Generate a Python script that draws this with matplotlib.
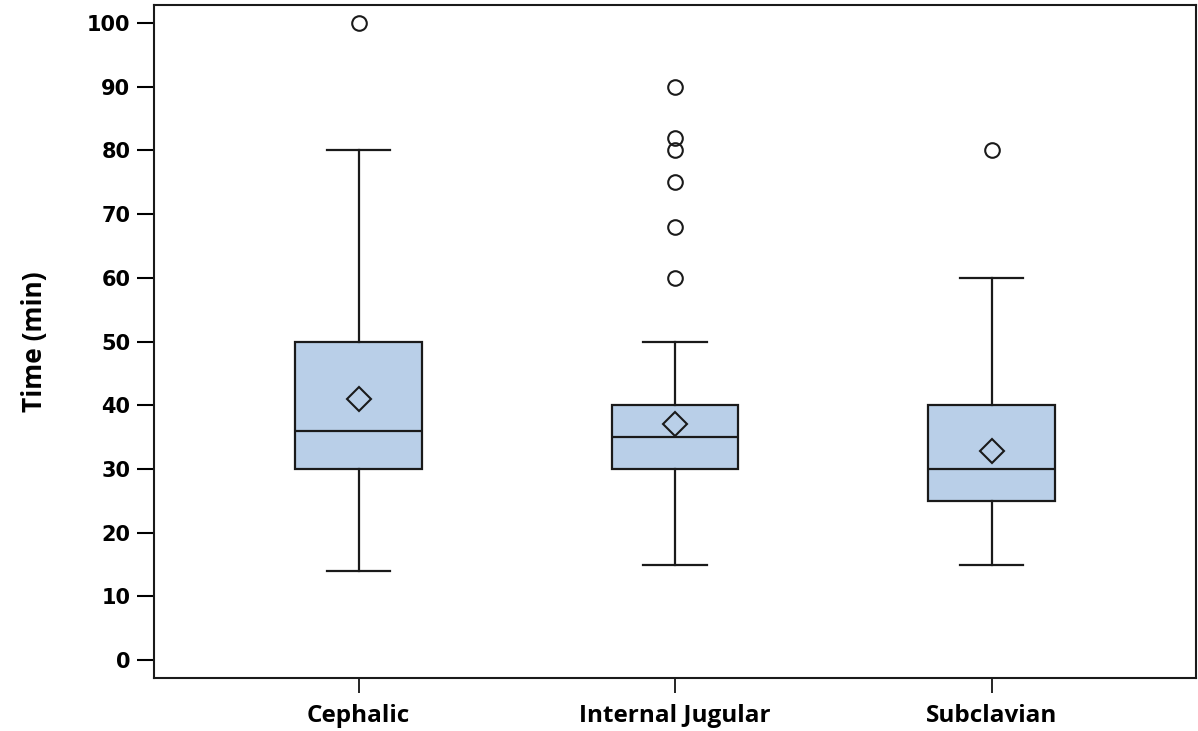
import numpy as np
import matplotlib.pyplot as plt

# box plot summary
groups = ['Cephalic', 'Internal Jugular', 'Subclavian']
whislo = [14, 15, 15]
q1 = [30, 30, 25]
med = [36, 35, 30]
q3 = [50, 40, 40]
whishi = [80, 50, 60]
means = [41, 37, 32.8]
fliers = [[100], [60, 68, 75, 80, 82, 90], [80]]
yticks = np.arange(0, 101, 10)

stats = []
for i in range(len(groups)):
    stats.append(dict(label=groups[i], whislo=whislo[i], q1=q1[i], med=med[i],
                      q3=q3[i], whishi=whishi[i], mean=means[i], fliers=fliers[i]))

fig = plt.figure(figsize=(11.98, 7.31), dpi=100)
ax = fig.add_axes([0.1285, 0.0725, 0.8695, 0.9205])

ax.bxp(stats, positions=[1, 2, 3], widths=0.4, patch_artist=True, showmeans=True,
       boxprops=dict(facecolor='#b9cfe8', edgecolor='#1a1a1a', linewidth=1.6),
       medianprops=dict(color='#1a1a1a', linewidth=1.6),
       whiskerprops=dict(color='#1a1a1a', linewidth=1.6),
       capprops=dict(color='#1a1a1a', linewidth=1.6),
       capwidths=0.2,
       meanprops=dict(marker='D', markerfacecolor='none', markeredgecolor='#1a1a1a',
                      markersize=12, markeredgewidth=1.5),
       flierprops=dict(marker='o', markerfacecolor='none', markeredgecolor='#1a1a1a',
                       markersize=10.5, markeredgewidth=1.5))

ax.set_xlim(0.353, 3.645)
ax.set_ylim(-2.8, 102.8)
ax.set_yticks(yticks)
ax.set_yticklabels([str(v) for v in yticks], fontsize=15, fontweight='bold', family='DejaVu Sans')
ax.set_xticks([1, 2, 3])
ax.set_xticklabels(groups, fontsize=17.5, fontweight='bold', family='Open Sans')
ax.tick_params(axis='y', length=12, width=1.5, pad=5)
ax.tick_params(axis='x', length=11, width=1.2, pad=8)
ax.set_ylabel('Time (min)', fontsize=19, fontweight='bold', family='Open Sans', labelpad=28)
for s in ax.spines.values():
    s.set_linewidth(1.5)
    s.set_color('#1a1a1a')

plt.savefig('out.png', dpi=100)
